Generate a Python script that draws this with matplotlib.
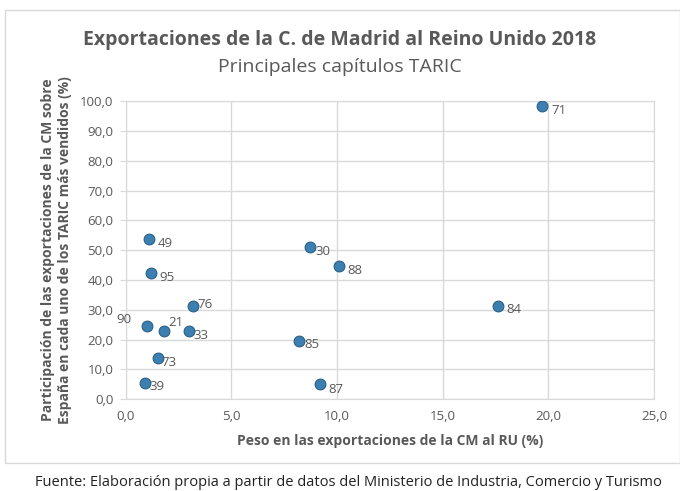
import matplotlib
matplotlib.use("Agg")
import matplotlib.pyplot as plt
from matplotlib.patches import Rectangle

# ── data ───────────────────────────────────────────────────────────────────────
capitulos = ["71", "30", "88", "84", "85", "87", "49", "95", "76", "90", "21", "33", "73", "39"]
peso      = [19.7, 8.7, 10.1, 17.6, 8.2, 9.2, 1.1, 1.2, 3.2, 1.0, 1.8, 3.0, 1.5, 0.9]
particip  = [98.4, 50.9, 44.7, 31.4, 19.6, 5.0, 53.8, 42.3, 31.2, 24.5, 22.8, 22.8, 13.8, 5.5]

# label offsets in points (dx, dy)
offsets = {"90": (-22, 5), "21": (3, 6), "76": (3, 1), "33": (3, -3),
           "73": (3, -3), "39": (3, -3), "85": (4, -3), "87": (6, -4),
           "30": (4, -3), "71": (7, -3)}

# ── style ──────────────────────────────────────────────────────────────────────
TXT   = "#595959"
GRID  = "#d9d9d9"
C_PT  = "#3c7fb1"
C_EDG = "#2a5f87"

plt.rcParams["font.family"] = ["Open Sans", "DejaVu Sans"]

fig = plt.figure(figsize=(6.8, 4.91), dpi=100)
ax = fig.add_axes([0.185, 0.187, 0.777, 0.607])

# chart border
fig.patches.append(Rectangle((5/680, 1 - 463/491), 675/680, 453/491,
                             transform=fig.transFigure, fill=False,
                             edgecolor=GRID, linewidth=1))

ax.scatter(peso, particip, s=60, color=C_PT, edgecolor=C_EDG, linewidth=0.8, zorder=3)
for lab, x, y in zip(capitulos, peso, particip):
    dx, dy = offsets.get(lab, (6, -3))
    ax.annotate(lab, (x, y), xytext=(dx, dy), textcoords="offset points",
                fontsize=9.5, color=TXT, va="center", ha="left")

ax.set_xlim(0, 25)
ax.set_ylim(0, 100)
ax.set_xticks(range(0, 26, 5))
ax.set_yticks(range(0, 101, 10))
ax.set_xticklabels([f"{v:.1f}".replace(".", ",") for v in range(0, 26, 5)])
ax.set_yticklabels([f"{v:.1f}".replace(".", ",") for v in range(0, 101, 10)])
ax.tick_params(colors=TXT, labelsize=9.5, length=0, pad=8)
ax.tick_params(axis="y", length=4, color=GRID, pad=5)
ax.grid(True, color=GRID, linewidth=1)
ax.set_axisbelow(True)
for s in ax.spines.values():
    s.set_color(GRID)

ax.set_xlabel("Peso en las exportaciones de la CM al RU (%)", fontsize=10,
              fontweight="bold", color=TXT, labelpad=8)
ax.set_ylabel("Participación de las exportaciones de la CM sobre\n"
              "España en cada uno de los TARIC más vendidos (%)",
              fontsize=10, fontweight="bold", color=TXT, labelpad=6)

fig.text(0.5, 1 - 40/491, "Exportaciones de la C. de Madrid al Reino Unido 2018",
         ha="center", va="center", fontsize=14, fontweight="bold", color=TXT)
fig.text(0.5, 1 - 67/491, "Principales capítulos TARIC",
         ha="center", va="center", fontsize=14, color=TXT)
fig.text(35/680, 1 - 483/491,
         "Fuente: Elaboración propia a partir de datos del Ministerio de Industria, Comercio y Turismo",
         ha="left", va="center", fontsize=10.5, color="#222222")

fig.savefig("out.png", dpi=100)
